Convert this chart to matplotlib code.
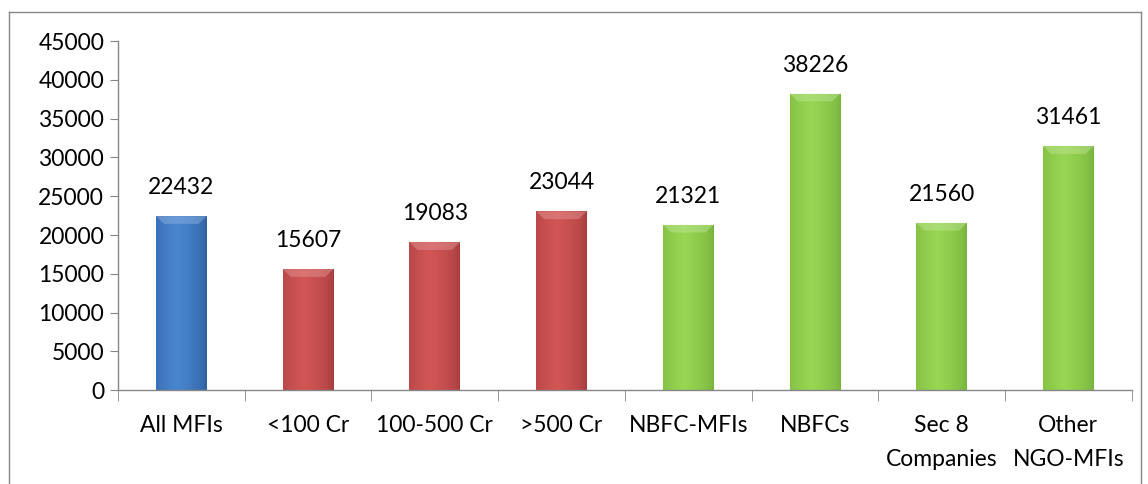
import numpy as np
import matplotlib.pyplot as plt
from matplotlib.colors import to_rgb
from matplotlib.patches import Polygon
from matplotlib.lines import Line2D

# ── data ─────────────────────────────────────────────
categories = ['All MFIs', '<100 Cr', '100-500 Cr', '>500 Cr', 'NBFC-MFIs',
              'NBFCs', 'Sec 8\nCompanies', 'Other\nNGO-MFIs']
values = [22432, 15607, 19083, 23044, 21321, 38226, 21560, 31461]
groups = ['blue', 'red', 'red', 'red', 'green', 'green', 'green', 'green']

# mid colour / edge colour per group
PALETTE = {
    'blue':  ('#4a86d0', '#2d5e9e'),
    'red':   ('#d35656', '#a63c3c'),
    'green': ('#98d653', '#76b23c'),
}
AXIS_GREY = '#868686'
FONT = ['Lato', 'DejaVu Sans']
FS = 16.5

plt.rcParams['font.family'] = FONT

fig = plt.figure(figsize=(11.48, 4.84), dpi=100)
ax = fig.add_axes([0.1028, 0.194, 0.883, 0.721])

x = np.arange(len(categories))
bars = ax.bar(x, values, width=0.4, color='none', edgecolor='none', zorder=2)

ax.set_xlim(-0.5, len(categories) - 0.5)
ax.set_ylim(0, 45000)


def shade(mid, edge, n=64):
    """horizontal gradient: dark edges, light centre-left"""
    m, e = np.array(to_rgb(mid)), np.array(to_rgb(edge))
    t = np.linspace(0, 1, n)
    w = np.clip(1 - np.abs(t - 0.42) / 0.58, 0, 1) ** 0.6
    return (e[None, :] * (1 - w[:, None]) + m[None, :] * w[:, None])[None, :, :]


for b, g in zip(bars, groups):
    mid, edge = PALETTE[g]
    x0, w, h = b.get_x(), b.get_width(), b.get_height()
    im = ax.imshow(shade(mid, edge), extent=[x0, x0 + w, 0, h], aspect='auto',
                   zorder=2, interpolation='bilinear')
    im.set_clip_path(b)
    # bevel on the top
    bh = 1000
    dx = w * 0.16
    light = np.array(to_rgb(mid)) * 0.6 + 0.4
    ax.add_patch(Polygon([[x0, h], [x0 + w, h], [x0 + w - dx, h - bh], [x0 + dx, h - bh]],
                         closed=True, facecolor=light, edgecolor='none', alpha=0.45, zorder=3))
    ax.annotate(f'{int(h)}', (x0 + w / 2, h), xytext=(0, 13), textcoords='offset points',
                ha='center', va='bottom', fontsize=FS, color='black')

# axes styling
for s in ['top', 'right']:
    ax.spines[s].set_visible(False)
for s in ['left', 'bottom']:
    ax.spines[s].set_color(AXIS_GREY)
    ax.spines[s].set_linewidth(1.0)

ax.set_yticks(np.arange(0, 45001, 5000))
ax.tick_params(axis='y', direction='out', length=6, color=AXIS_GREY, labelsize=FS, pad=4)

ax.set_xticks(x)
ax.set_xticklabels(categories, fontsize=FS, linespacing=1.75)
ax.tick_params(axis='x', which='major', length=0, pad=18)
ax.set_xticks(np.arange(-0.5, len(categories), 1.0), minor=True)
ax.tick_params(axis='x', which='minor', direction='out', length=8, color=AXIS_GREY)

# outer chart frame (bottom edge falls outside the image)
fx0, fx1, fy1 = 9 / 1148, 1141 / 1148, 1 - 12 / 484
for xs, ys in [([fx0, fx0], [0, fy1]), ([fx0, fx1], [fy1, fy1]), ([fx1, fx1], [fy1, 0])]:
    fig.add_artist(Line2D(xs, ys, color=AXIS_GREY, linewidth=1.0, transform=fig.transFigure))

fig.savefig('out.png', dpi=100)
